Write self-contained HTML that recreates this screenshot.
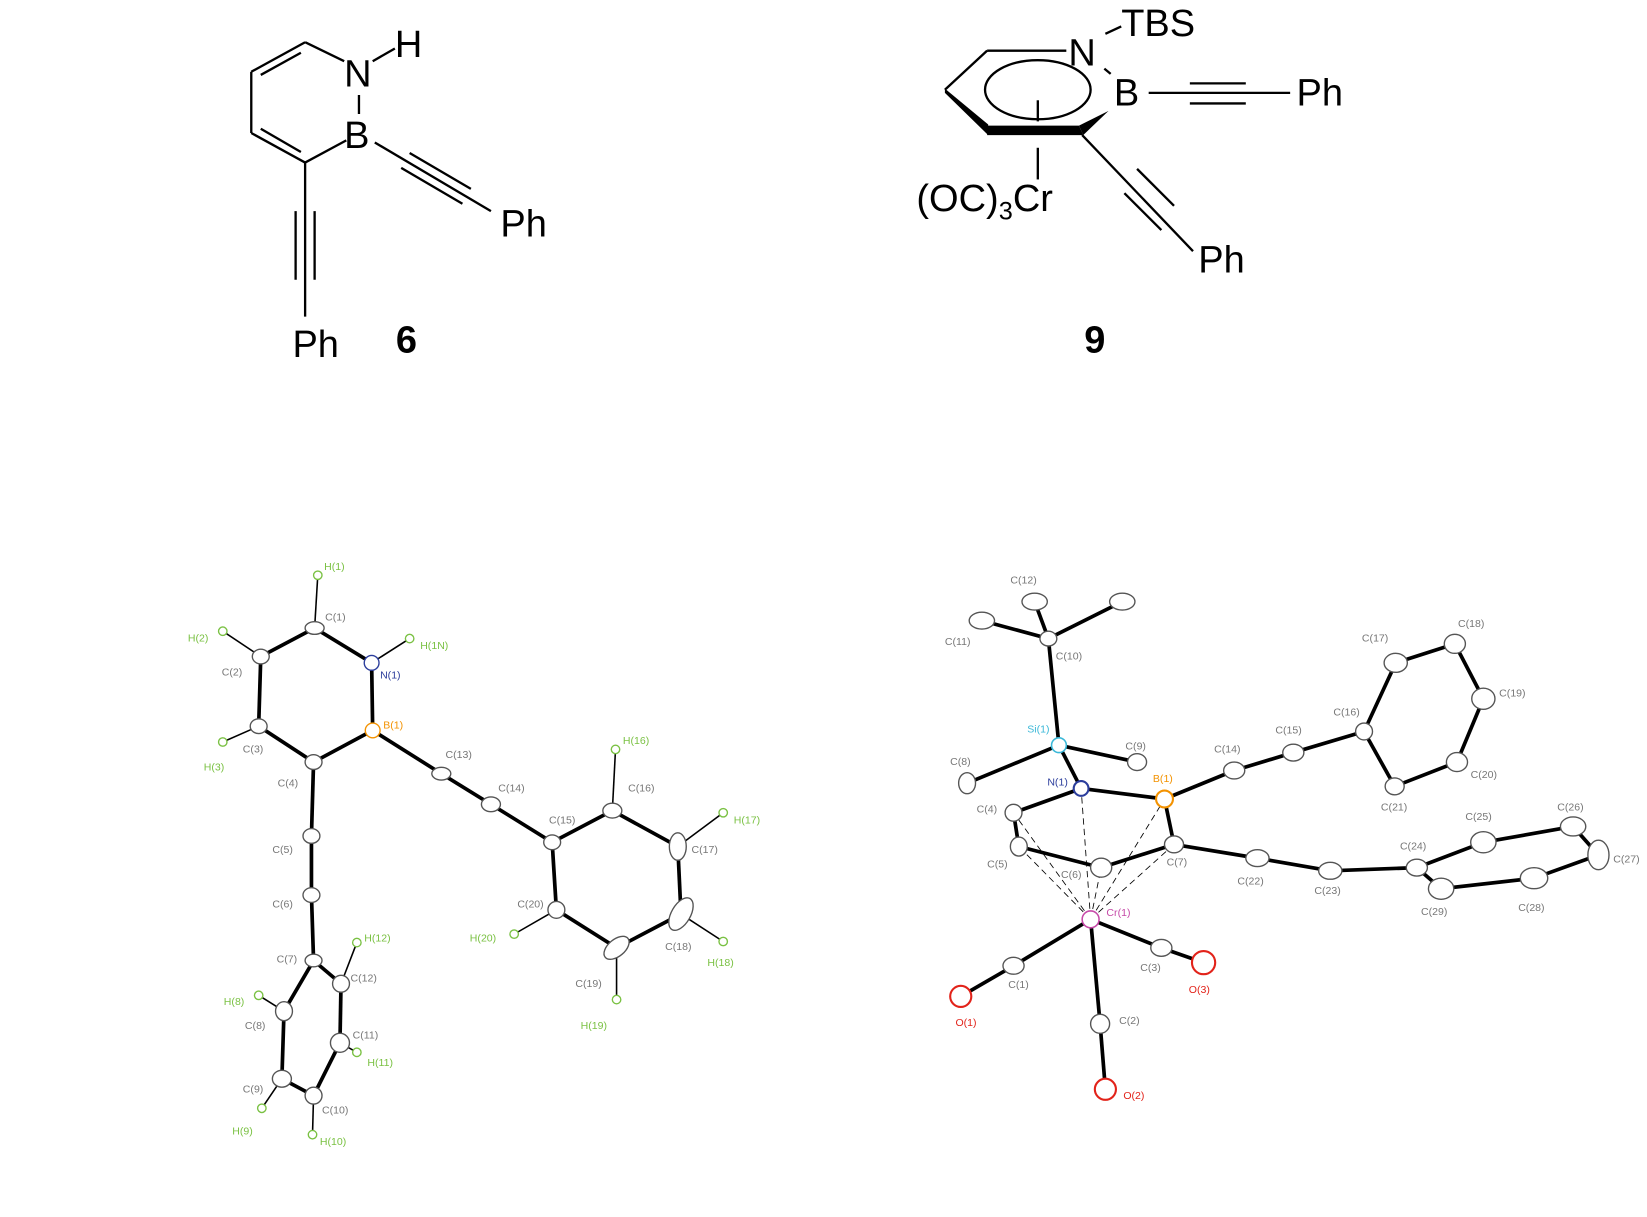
<!DOCTYPE html>
<html><head><meta charset="utf-8"><style>
html,body{margin:0;padding:0;background:#fff}
svg{display:block}
.t{font-family:"Liberation Sans",sans-serif}
.lb{font-family:"Liberation Sans",sans-serif;font-size:10px;fill:#777}
.hl{font-family:"Liberation Sans",sans-serif;font-size:10px;fill:#7ac143}
</style></head><body>
<svg width="1647" height="1217" viewBox="0 0 1560 1153" preserveAspectRatio="none">
<!-- Structure 6 -->
<g stroke="#000" stroke-width="2.2" fill="none">
<line x1="289" y1="40" x2="238" y2="68"/><line x1="285" y1="50" x2="247" y2="71"/>
<line x1="238" y1="68" x2="238" y2="126"/>
<line x1="238" y1="126" x2="289" y2="154"/><line x1="247" y1="122" x2="285" y2="144"/>
<line x1="289" y1="154" x2="328" y2="133"/>
<line x1="340" y1="90" x2="340" y2="108"/>
<line x1="289" y1="40" x2="326" y2="58"/>
<line x1="353" y1="58" x2="374" y2="46"/>
<line x1="355" y1="135" x2="465" y2="200"/><line x1="388" y1="145" x2="446" y2="179"/><line x1="380" y1="159" x2="438" y2="193"/>
<line x1="289" y1="154" x2="289" y2="300"/><line x1="280" y1="200" x2="280" y2="265"/><line x1="298" y1="200" x2="298" y2="265"/>
</g>
<g class="t" font-size="36" fill="#000">
<text x="326" y="82">N</text><text x="374" y="54">H</text><text x="326" y="140">B</text>
<text x="474" y="224">Ph</text><text x="277" y="338">Ph</text>
<text x="375" y="334" font-weight="bold">6</text>
</g>
<!-- Structure 9 -->
<g stroke="#000" stroke-width="2.2" fill="none">
<line x1="1010" y1="48" x2="935" y2="48"/><line x1="935" y1="48" x2="895" y2="85"/>
<line x1="1047" y1="32" x2="1062" y2="25"/><line x1="1046" y1="65" x2="1052" y2="70"/>
<ellipse cx="983" cy="85" rx="50" ry="28"/>
<line x1="983" y1="95" x2="983" y2="115"/><line x1="983" y1="140" x2="983" y2="170"/>
<line x1="1088" y1="88" x2="1222" y2="88"/><line x1="1127" y1="79" x2="1180" y2="79"/><line x1="1127" y1="98" x2="1180" y2="98"/>
<line x1="1025" y1="128" x2="1130" y2="238"/><line x1="1112" y1="195" x2="1077" y2="160"/><line x1="1100" y1="218" x2="1065" y2="183"/>
</g>
<polygon points="895,84 936,118 936,128 895,88" fill="#000"/>
<polygon points="935,119 1022,119 1026,128 935,128" fill="#000"/>
<polygon points="1022,119 1050,105 1026,128" fill="#000"/>
<g class="t" font-size="36" fill="#000">
<text x="1012" y="62">N</text><text x="1062" y="34">TBS</text><text x="1055" y="100">B</text>
<text x="1228" y="100">Ph</text><text x="1135" y="258">Ph</text>
<text x="868" y="200">(OC)<tspan font-size="24" dy="8">3</tspan><tspan dy="-8">Cr</tspan></text>
<text x="1027" y="334" font-weight="bold">9</text>
</g>
<!-- ORTEP left -->
<g stroke="#000" stroke-width="3.5">
<line x1="298" y1="595" x2="247" y2="622"/><line x1="298" y1="595" x2="352" y2="628"/>
<line x1="247" y1="622" x2="245" y2="688"/><line x1="352" y1="628" x2="353" y2="692"/>
<line x1="245" y1="688" x2="297" y2="722"/><line x1="297" y1="722" x2="353" y2="692"/>
<line x1="353" y1="692" x2="418" y2="733"/><line x1="418" y1="733" x2="465" y2="762"/><line x1="465" y1="762" x2="523" y2="798"/>
<line x1="523" y1="798" x2="580" y2="768"/><line x1="580" y1="768" x2="642" y2="802"/><line x1="642" y1="802" x2="645" y2="866"/>
<line x1="645" y1="866" x2="584" y2="898"/><line x1="584" y1="898" x2="527" y2="862"/><line x1="527" y1="862" x2="523" y2="798"/>
<line x1="297" y1="722" x2="295" y2="792"/><line x1="295" y1="792" x2="295" y2="848"/><line x1="295" y1="848" x2="297" y2="910"/>
<line x1="297" y1="910" x2="323" y2="932"/><line x1="297" y1="910" x2="269" y2="958"/><line x1="269" y1="958" x2="267" y2="1022"/>
<line x1="267" y1="1022" x2="297" y2="1038"/><line x1="297" y1="1038" x2="322" y2="988"/><line x1="322" y1="988" x2="323" y2="932"/>
</g>
<g stroke="#000" stroke-width="1.5">
<line x1="298" y1="595" x2="301" y2="545"/><line x1="247" y1="622" x2="211" y2="598"/><line x1="352" y1="628" x2="388" y2="605"/>
<line x1="245" y1="688" x2="211" y2="703"/><line x1="580" y1="768" x2="583" y2="710"/><line x1="642" y1="802" x2="685" y2="770"/>
<line x1="645" y1="866" x2="685" y2="892"/><line x1="584" y1="898" x2="584" y2="947"/><line x1="527" y1="862" x2="487" y2="885"/>
<line x1="323" y1="932" x2="338" y2="893"/><line x1="269" y1="958" x2="245" y2="943"/><line x1="322" y1="988" x2="338" y2="997"/>
<line x1="267" y1="1022" x2="248" y2="1050"/><line x1="297" y1="1038" x2="296" y2="1075"/>
</g>
<g fill="#fff" stroke="#555" stroke-width="1.3">
<ellipse cx="298" cy="595" rx="9" ry="6"/><ellipse cx="247" cy="622" rx="8" ry="7"/><ellipse cx="245" cy="688" rx="8" ry="7"/>
<ellipse cx="297" cy="722" rx="8" ry="7"/><ellipse cx="418" cy="733" rx="9" ry="6"/><ellipse cx="465" cy="762" rx="9" ry="7"/>
<ellipse cx="295" cy="792" rx="8" ry="7"/><ellipse cx="295" cy="848" rx="8" ry="7"/><ellipse cx="523" cy="798" rx="8" ry="7"/>
<ellipse cx="580" cy="768" rx="9" ry="7"/><ellipse cx="642" cy="802" rx="8" ry="13"/><ellipse cx="645" cy="866" rx="9" ry="17" transform="rotate(30 645 866)"/>
<ellipse cx="584" cy="898" rx="14" ry="8" transform="rotate(-40 584 898)"/><ellipse cx="527" cy="862" rx="8" ry="8"/>
<ellipse cx="297" cy="910" rx="8" ry="6"/><ellipse cx="323" cy="932" rx="8" ry="8"/><ellipse cx="269" cy="958" rx="8" ry="9"/>
<ellipse cx="322" cy="988" rx="9" ry="9"/><ellipse cx="267" cy="1022" rx="9" ry="8"/><ellipse cx="297" cy="1038" rx="8" ry="8"/>
</g>
<ellipse cx="352" cy="628" rx="7" ry="7" fill="#fff" stroke="#2b3d9c" stroke-width="1.3"/>
<ellipse cx="353" cy="692" rx="7" ry="7" fill="#fff" stroke="#f39200" stroke-width="1.3"/>
<g fill="#fff" stroke="#7ac143" stroke-width="1.3">
<circle cx="301" cy="545" r="4"/><circle cx="211" cy="598" r="4"/><circle cx="388" cy="605" r="4"/><circle cx="211" cy="703" r="4"/>
<circle cx="583" cy="710" r="4"/><circle cx="685" cy="770" r="4"/><circle cx="685" cy="892" r="4"/><circle cx="584" cy="947" r="4"/>
<circle cx="487" cy="885" r="4"/><circle cx="338" cy="893" r="4"/><circle cx="245" cy="943" r="4"/><circle cx="338" cy="997" r="4"/>
<circle cx="248" cy="1050" r="4"/><circle cx="296" cy="1075" r="4"/>
</g>
<g class="lb">
<text x="308" y="588">C(1)</text><text x="210" y="640">C(2)</text><text x="360" y="643" fill="#2b3d9c">N(1)</text>
<text x="230" y="713">C(3)</text><text x="363" y="690" fill="#f39200">B(1)</text><text x="263" y="745">C(4)</text>
<text x="422" y="718">C(13)</text><text x="472" y="750">C(14)</text><text x="258" y="808">C(5)</text><text x="258" y="860">C(6)</text>
<text x="520" y="780">C(15)</text><text x="595" y="750">C(16)</text><text x="655" y="808">C(17)</text><text x="630" y="900">C(18)</text>
<text x="545" y="935">C(19)</text><text x="490" y="860">C(20)</text><text x="262" y="912">C(7)</text><text x="332" y="930">C(12)</text>
<text x="232" y="975">C(8)</text><text x="334" y="984">C(11)</text><text x="230" y="1035">C(9)</text><text x="305" y="1055">C(10)</text>
</g>
<g class="hl">
<text x="307" y="540">H(1)</text><text x="178" y="608">H(2)</text><text x="398" y="615">H(1N)</text><text x="193" y="730">H(3)</text>
<text x="590" y="705">H(16)</text><text x="695" y="780">H(17)</text><text x="670" y="915">H(18)</text><text x="550" y="975">H(19)</text>
<text x="445" y="892">H(20)</text><text x="345" y="892">H(12)</text><text x="212" y="952">H(8)</text><text x="348" y="1010">H(11)</text>
<text x="220" y="1075">H(9)</text><text x="303" y="1085">H(10)</text>
</g>
<!-- ORTEP right -->
<g stroke="#000" stroke-width="3.5">
<line x1="993" y1="605" x2="930" y2="588"/><line x1="993" y1="605" x2="980" y2="570"/><line x1="993" y1="605" x2="1063" y2="570"/>
<line x1="993" y1="605" x2="1003" y2="706"/><line x1="1003" y1="706" x2="916" y2="742"/><line x1="1003" y1="706" x2="1077" y2="722"/>
<line x1="1003" y1="706" x2="1024" y2="747"/><line x1="1024" y1="747" x2="1103" y2="757"/><line x1="1024" y1="747" x2="960" y2="770"/>
<line x1="960" y1="770" x2="965" y2="802"/><line x1="965" y1="802" x2="1043" y2="822"/><line x1="1043" y1="822" x2="1112" y2="800"/>
<line x1="1112" y1="800" x2="1103" y2="757"/><line x1="1103" y1="757" x2="1169" y2="730"/><line x1="1169" y1="730" x2="1225" y2="713"/>
<line x1="1225" y1="713" x2="1292" y2="693"/><line x1="1292" y1="693" x2="1322" y2="628"/><line x1="1322" y1="628" x2="1378" y2="610"/>
<line x1="1378" y1="610" x2="1405" y2="662"/><line x1="1405" y1="662" x2="1380" y2="722"/><line x1="1380" y1="722" x2="1321" y2="745"/>
<line x1="1321" y1="745" x2="1292" y2="693"/><line x1="1112" y1="800" x2="1191" y2="813"/><line x1="1191" y1="813" x2="1260" y2="825"/>
<line x1="1260" y1="825" x2="1342" y2="822"/><line x1="1342" y1="822" x2="1405" y2="798"/><line x1="1405" y1="798" x2="1490" y2="783"/>
<line x1="1490" y1="783" x2="1514" y2="810"/><line x1="1514" y1="810" x2="1453" y2="832"/><line x1="1453" y1="832" x2="1365" y2="842"/>
<line x1="1365" y1="842" x2="1342" y2="822"/>
<line x1="1033" y1="871" x2="960" y2="915"/><line x1="960" y1="915" x2="910" y2="944"/>
<line x1="1033" y1="871" x2="1100" y2="898"/><line x1="1100" y1="898" x2="1140" y2="912"/>
<line x1="1033" y1="871" x2="1042" y2="970"/><line x1="1042" y1="970" x2="1047" y2="1032"/>
</g>
<g stroke="#000" stroke-width="0.8" stroke-dasharray="6,4">
<line x1="1033" y1="871" x2="1024" y2="747"/><line x1="1033" y1="871" x2="1103" y2="757"/><line x1="1033" y1="871" x2="960" y2="770"/>
<line x1="1033" y1="871" x2="965" y2="802"/><line x1="1033" y1="871" x2="1043" y2="822"/><line x1="1033" y1="871" x2="1112" y2="800"/>
</g>
<g fill="#fff" stroke="#555" stroke-width="1.3">
<ellipse cx="930" cy="588" rx="12" ry="8"/><ellipse cx="980" cy="570" rx="12" ry="8"/><ellipse cx="1063" cy="570" rx="12" ry="8"/>
<ellipse cx="993" cy="605" rx="8" ry="7"/><ellipse cx="1077" cy="722" rx="9" ry="8"/><ellipse cx="916" cy="742" rx="8" ry="10"/>
<ellipse cx="960" cy="770" rx="8" ry="8"/><ellipse cx="965" cy="802" rx="8" ry="9"/><ellipse cx="1043" cy="822" rx="10" ry="9"/>
<ellipse cx="1112" cy="800" rx="9" ry="8"/><ellipse cx="1169" cy="730" rx="10" ry="8"/><ellipse cx="1225" cy="713" rx="10" ry="8"/>
<ellipse cx="1292" cy="693" rx="8" ry="8"/><ellipse cx="1322" cy="628" rx="11" ry="9"/><ellipse cx="1378" cy="610" rx="10" ry="9"/>
<ellipse cx="1405" cy="662" rx="11" ry="10"/><ellipse cx="1380" cy="722" rx="10" ry="9"/><ellipse cx="1321" cy="745" rx="9" ry="8"/>
<ellipse cx="1191" cy="813" rx="11" ry="8"/><ellipse cx="1260" cy="825" rx="11" ry="8"/><ellipse cx="1342" cy="822" rx="10" ry="8"/>
<ellipse cx="1405" cy="798" rx="12" ry="10"/><ellipse cx="1490" cy="783" rx="12" ry="9"/><ellipse cx="1514" cy="810" rx="10" ry="14"/>
<ellipse cx="1453" cy="832" rx="13" ry="10"/><ellipse cx="1365" cy="842" rx="12" ry="10"/>
<ellipse cx="960" cy="915" rx="10" ry="8"/><ellipse cx="1100" cy="898" rx="10" ry="8"/><ellipse cx="1042" cy="970" rx="9" ry="9"/>
</g>
<circle cx="1003" cy="706" r="7" fill="#fff" stroke="#3bb8d8" stroke-width="1.5"/>
<circle cx="1024" cy="747" r="7" fill="#fff" stroke="#2b3d9c" stroke-width="2"/>
<circle cx="1103" cy="757" r="8" fill="#fff" stroke="#f39200" stroke-width="2"/>
<circle cx="1033" cy="871" r="8" fill="#fff" stroke="#c64aa8" stroke-width="1.5"/>
<g fill="#fff" stroke="#e2231a" stroke-width="2">
<circle cx="910" cy="944" r="10"/><circle cx="1140" cy="912" r="11"/><circle cx="1047" cy="1032" r="10"/>
</g>
<g class="lb">
<text x="957" y="553">C(12)</text><text x="895" y="611">C(11)</text><text x="1000" y="625">C(10)</text>
<text x="1066" y="710">C(9)</text><text x="900" y="725">C(8)</text><text x="925" y="770">C(4)</text><text x="935" y="822">C(5)</text>
<text x="1005" y="832">C(6)</text><text x="1105" y="820">C(7)</text><text x="1150" y="713">C(14)</text><text x="1208" y="695">C(15)</text>
<text x="1263" y="678">C(16)</text><text x="1290" y="608">C(17)</text><text x="1381" y="594">C(18)</text><text x="1420" y="660">C(19)</text>
<text x="1393" y="737">C(20)</text><text x="1308" y="768">C(21)</text><text x="1172" y="838">C(22)</text><text x="1245" y="847">C(23)</text>
<text x="1326" y="805">C(24)</text><text x="1388" y="777">C(25)</text><text x="1475" y="768">C(26)</text><text x="1528" y="817">C(27)</text>
<text x="1438" y="863">C(28)</text><text x="1346" y="867">C(29)</text><text x="955" y="936">C(1)</text><text x="1080" y="920">C(3)</text>
<text x="1060" y="970">C(2)</text>
<text x="973" y="694" fill="#3bb8d8">Si(1)</text><text x="992" y="744" fill="#2b3d9c">N(1)</text>
<text x="1092" y="741" fill="#f39200">B(1)</text><text x="1048" y="868" fill="#c64aa8">Cr(1)</text>
<text x="905" y="972" fill="#e2231a">O(1)</text><text x="1126" y="941" fill="#e2231a">O(3)</text><text x="1064" y="1041" fill="#e2231a">O(2)</text>
</g>
</svg>
</body></html>
